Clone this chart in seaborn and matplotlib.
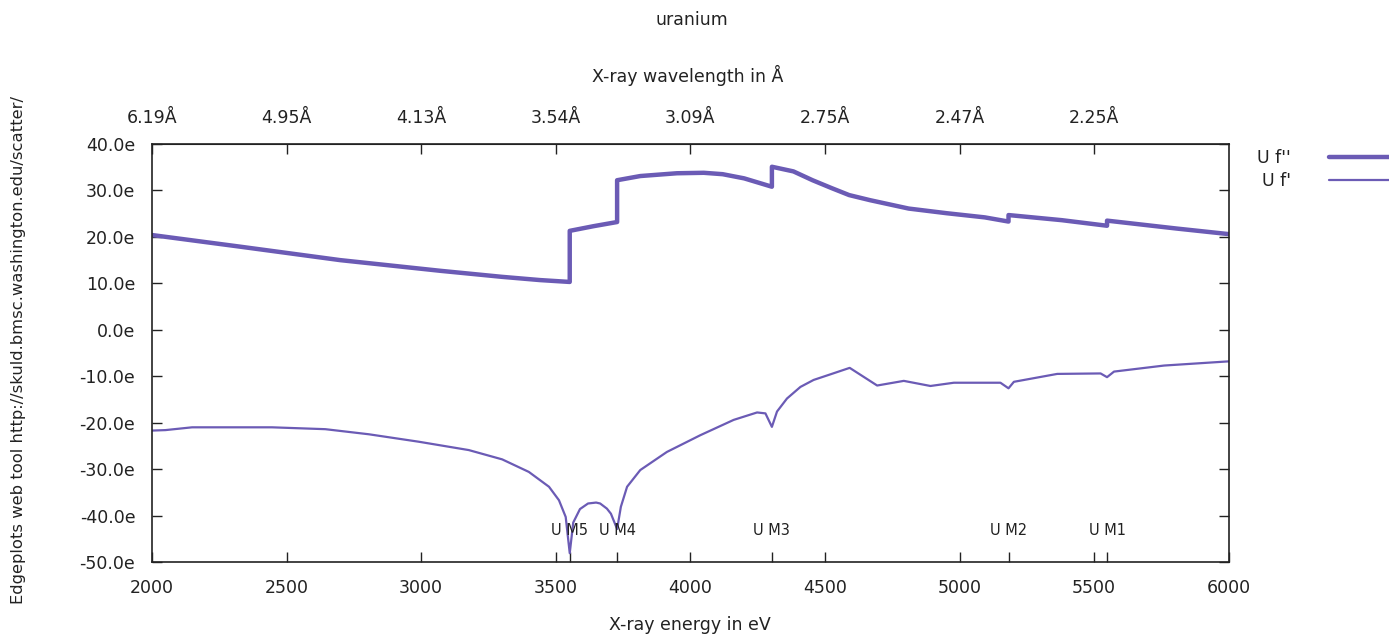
import numpy as np
import pandas as pd
import matplotlib
matplotlib.use("Agg")
import matplotlib.pyplot as plt
import seaborn as sns

# f'' (thick line) - energy in eV, value in electrons
fpp_energy = [2000, 2327, 2699, 3071, 3300, 3442, 3552, 3552, 3640, 3728, 3728,
              3814, 3950, 4050, 4120, 4200, 4303, 4303, 4383, 4454, 4525, 4590,
              4668, 4811, 4952, 5094, 5182, 5182, 5380, 5548, 5548, 5806, 6000]
fpp_value = [20.4, 17.9, 15.0, 12.7, 11.4, 10.7, 10.3, 21.3, 22.3, 23.2, 32.2,
             33.1, 33.7, 33.8, 33.5, 32.6, 30.8, 35.1, 34.1, 32.2, 30.5, 29.0,
             27.9, 26.1, 25.1, 24.2, 23.3, 24.7, 23.6, 22.4, 23.5, 21.8, 20.6]

# f' (thin line)
fp_energy = [2000, 2050, 2149, 2446, 2644, 2806, 2991, 3177, 3301, 3400, 3475,
             3512, 3537, 3552, 3565, 3590, 3620, 3650, 3665, 3690, 3705, 3728,
             3742, 3765, 3814, 3913, 4037, 4161, 4248, 4279, 4303, 4322, 4359,
             4409, 4458, 4520, 4592, 4694, 4793, 4892, 4979, 5152, 5182, 5202,
             5363, 5524, 5548, 5574, 5760, 6000]
fp_value = [-21.7, -21.6, -21.0, -21.0, -21.4, -22.5, -24.1, -25.9, -27.9, -30.6, -33.8,
            -36.7, -40.3, -48.1, -41.5, -38.6, -37.4, -37.2, -37.4, -38.5, -39.6, -42.9,
            -38.1, -33.8, -30.2, -26.3, -22.7, -19.4, -17.8, -18.0, -20.9, -17.6, -14.8,
            -12.3, -10.8, -9.6, -8.2, -12.0, -11.0, -12.1, -11.4, -11.4, -12.6, -11.2,
            -9.5, -9.4, -10.2, -9.0, -7.7, -6.8]

# absorption edges
edge_names = ["U M5", "U M4", "U M3", "U M2", "U M1"]
edge_energy = [3552, 3728, 4303, 5182, 5548]

# top axis: wavelength labels at these energies
top_ticks = [2000, 2500, 3000, 3500, 4000, 4500, 5000, 5500]
top_labels = ["6.19Å", "4.95Å", "4.13Å", "3.54Å", "3.09Å", "2.75Å", "2.47Å", "2.25Å"]

y_ticks = [40, 30, 20, 10, 0, -10, -20, -30, -40, -50]
x_ticks = [2000, 2500, 3000, 3500, 4000, 4500, 5000, 5500, 6000]

color = "#6b5bb5"
ink = "#222222"

sns.set_style("ticks")
plt.rcParams["font.family"] = ["DejaVu Sans"]

fig = plt.figure(figsize=(13.89, 6.38), dpi=100)
ax = fig.add_axes([0.1094, 0.1191, 0.7752, 0.6552])

sns.lineplot(x=fpp_energy, y=fpp_value, estimator=None, sort=False,
             color=color, linewidth=3.2, label="U f''", ax=ax)
sns.lineplot(x=fp_energy, y=fp_value, estimator=None, sort=False,
             color=color, linewidth=1.6, label="U f'", ax=ax)

ax.set_xlim(2000, 6000)
ax.set_ylim(-50, 40)
ax.set_xticks(x_ticks)
ax.set_xticklabels([str(t) for t in x_ticks])
ax.set_xticks(edge_energy, minor=True)
ax.set_yticks(y_ticks)
ax.set_yticklabels([f"{t:.1f}e" for t in y_ticks])

for s in ax.spines.values():
    s.set_visible(True)
    s.set_color(ink)
    s.set_linewidth(1.2)

ax.tick_params(axis="both", which="both", direction="in", length=7, width=1,
               color=ink, labelsize=12.5, labelcolor=ink)
ax.tick_params(axis="y", left=True, right=True, pad=12)
ax.tick_params(axis="x", which="both", top=False, bottom=True, pad=12)
ax.tick_params(axis="x", which="minor", length=7, width=1, bottom=True)

# top wavelength axis
top = ax.secondary_xaxis("top")
top.set_xticks(top_ticks)
top.set_xticklabels(top_labels)
top.tick_params(direction="in", length=7, width=1, color=ink,
                labelsize=12.5, labelcolor=ink, pad=12)

for name, e in zip(edge_names, edge_energy):
    ax.text(e, -43.3, name, ha="center", va="center", fontsize=10.5, color=ink)

ax.set_xlabel("X-ray energy in eV", fontsize=12.5, color=ink)
ax.xaxis.set_label_coords(0.5, -0.128)
ax.set_ylabel("")

fig.text(0.4953, 0.882, "X-ray wavelength in Å", ha="center", va="center",
         fontsize=12.5, color=ink)
fig.text(0.498, 0.968, "uranium", ha="center", va="center",
         fontsize=12.5, color=ink)
fig.text(0.013, 0.451, "Edgeplots web tool http://skuld.bmsc.washington.edu/scatter/",
         rotation=90, ha="center", va="center", fontsize=11.8, color=ink)

leg = ax.legend(loc="upper left", bbox_to_anchor=(1.02, 1.004), frameon=False,
                markerfirst=False, fontsize=12.5, handlelength=4.5,
                handletextpad=2.2, labelspacing=0.25, borderaxespad=0)
for t in leg.get_texts():
    t.set_color(ink)

fig.savefig("out.png", dpi=100)
